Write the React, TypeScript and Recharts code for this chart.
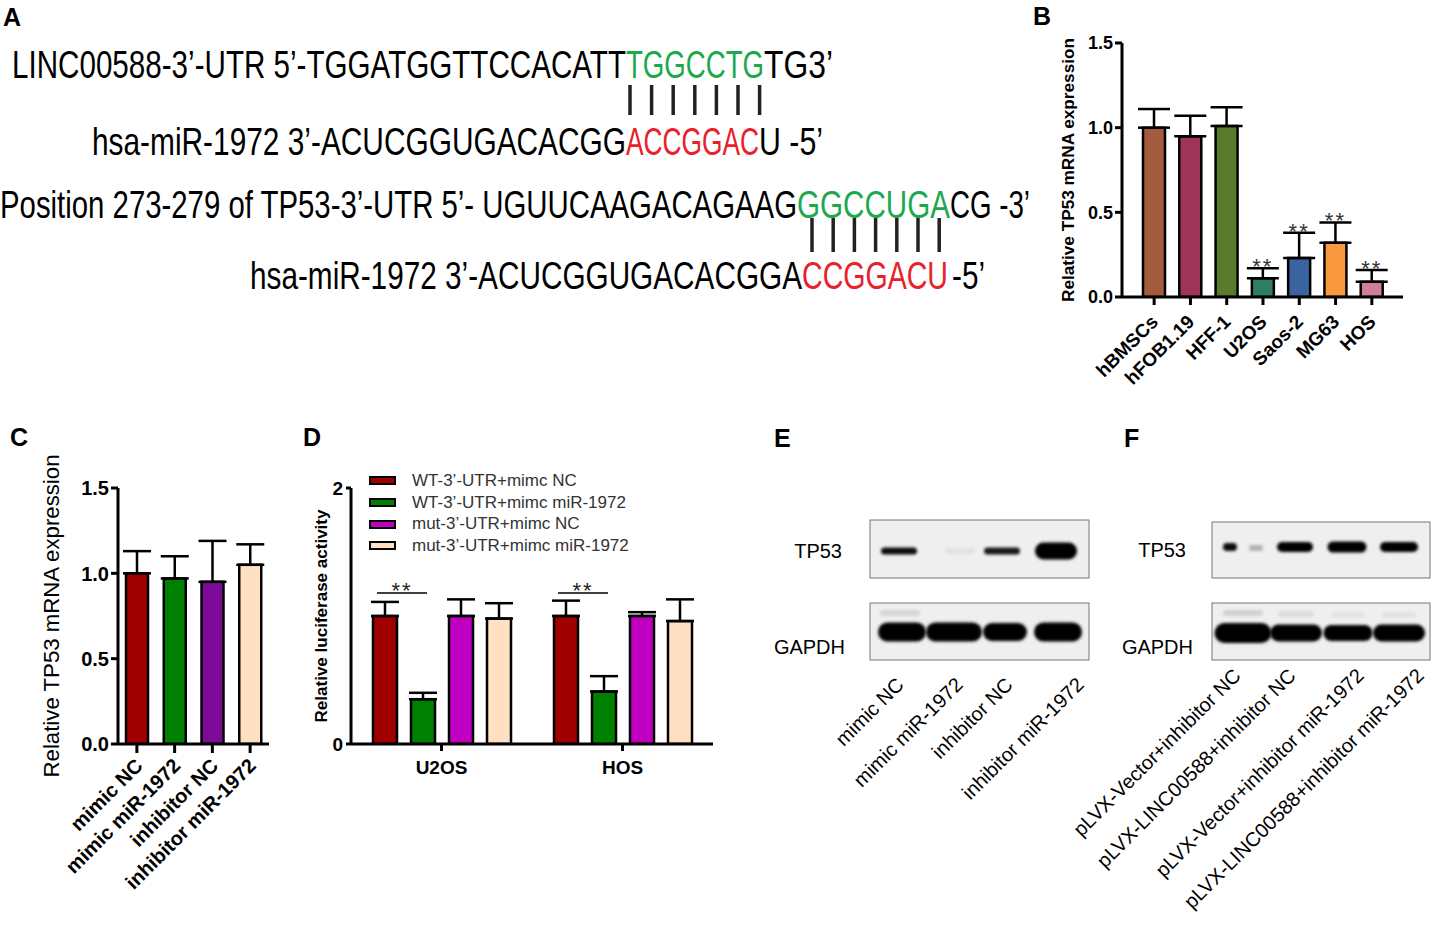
import React from "react";
import { BarChart, Bar, XAxis, YAxis, ErrorBar, Cell, LabelList, Legend } from "recharts";

const FONT = "'Liberation Sans', Arial, Helvetica, sans-serif";
const NARROW = "'Liberation Sans Narrow', 'Liberation Sans', Arial, sans-serif";
const GREEN = "#1ea84c";
const RED = "#e8212b";

// ---- panel B: TP53 in cell lines
const cellLines = ["hBMSCs", "hFOB1.19", "HFF-1", "U2OS", "Saos-2", "MG63", "HOS"];
const cellExpr = [1.0, 0.95, 1.01, 0.11, 0.23, 0.32, 0.09];
const cellErr = [0.11, 0.12, 0.11, 0.06, 0.15, 0.12, 0.07];
const cellSig = ["", "", "", "**", "**", "**", "**"];
const cellColors = ["#a45a3c", "#9e3559", "#5b7b2c", "#2e7f62", "#3a64a0", "#f99a40", "#d37d9d"];

// ---- panel C: mimic / inhibitor
const groupsC = ["mimic NC", "mimic miR-1972", "inhibitor NC", "inhibitor miR-1972"];
const exprC = [1.0, 0.97, 0.95, 1.05];
const errC = [0.13, 0.13, 0.24, 0.12];
const colorsC = ["#a00000", "#008000", "#7d0a99", "#ffe0c2"];

// ---- panel D: luciferase
const linesD = ["U2OS", "HOS"];
const wtNC = [1.0, 1.0];
const wtNCErr = [0.11, 0.12];
const wtMiR = [0.35, 0.41];
const wtMiRErr = [0.05, 0.12];
const mutNC = [1.0, 1.0];
const mutNCErr = [0.13, 0.03];
const mutMiR = [0.98, 0.96];
const mutMiRErr = [0.12, 0.17];
const sigD = ["**", "**"];
const sigLevelD = 1.18;
const seriesD = [
  { key: "wtNC", name: "WT-3’-UTR+mimc NC", color: "#a00000" },
  { key: "wtMiR", name: "WT-3’-UTR+mimc miR-1972", color: "#008000" },
  { key: "mutNC", name: "mut-3’-UTR+mimc NC", color: "#c000c0" },
  { key: "mutMiR", name: "mut-3’-UTR+mimc miR-1972", color: "#ffe0c2" },
];

// ---- blots (band intensity per lane)
const lanesE = ["mimic NC", "mimic miR-1972", "inhibitor NC", "inhibitor miR-1972"];
const lanesF = [
  "pLVX-Vector+inhibitor NC",
  "pLVX-LINC00588+inhibitor NC",
  "pLVX-Vector+inhibitor miR-1972",
  "pLVX-LINC00588+inhibitor miR-1972",
];
const tp53E = [0.95, 0.05, 0.9, 1.0];
const gapdhE = [1, 1, 1, 1];
const tp53F = [0.95, 1, 1, 1];
const gapdhF = [1, 1, 1, 1];

const dataB = cellLines.map((c, i) => ({ name: c, value: cellExpr[i], err: [0, cellErr[i]], sig: cellSig[i] }));
const dataC = groupsC.map((g, i) => ({ name: g, value: exprC[i], err: [0, errC[i]] }));
const dataD = linesD.map((l, i) => ({
  name: l,
  wtNC: wtNC[i], wtNCErr: [0, wtNCErr[i]],
  wtMiR: wtMiR[i], wtMiRErr: [0, wtMiRErr[i]],
  mutNC: mutNC[i], mutNCErr: [0, mutNCErr[i]],
  mutMiR: mutMiR[i], mutMiRErr: [0, mutMiRErr[i]],
  sig: sigD[i],
}));

const axisStyle = { stroke: "#000", strokeWidth: 3 };

const RotTick = (p: any) => {
  const { x, y, payload, size, dx, dy } = p;
  return (
    <text transform={`translate(${x + dx},${y + dy}) rotate(-45)`} textAnchor="end"
      fontSize={size} fontWeight={700} fontFamily={FONT} fill="#000">
      {payload.value}
    </text>
  );
};

const YTick = (p: any) => {
  const { x, y, payload, size, digits } = p;
  const v = Number(payload.value);
  return (
    <text x={x} y={y} dy="0.36em" textAnchor="end" fontSize={size} fontWeight={700} fontFamily={FONT} fill="#000">
      {digits ? v.toFixed(digits) : String(v)}
    </text>
  );
};

const StarB = (props: any) => {
  const vb = props.viewBox || props;
  const row = dataB[props.index];
  if (!row || !row.sig) return null;
  const per = vb.height / row.value;
  const top = vb.y - row.err[1] * per;
  return (
    <text x={vb.x + vb.width / 2} y={top + 6} textAnchor="middle" fontSize={22}
      fontFamily={FONT} fill="#333" letterSpacing={2}>{row.sig}</text>
  );
};

const BracketD = (props: any) => {
  const vb = props.viewBox || props;
  const row = dataD[props.index];
  if (!row || !row.sig) return null;
  const per = vb.height / row.wtNC;
  const yl = vb.y + vb.height - sigLevelD * per;
  const x1 = vb.x + 4;
  const x2 = vb.x + vb.width * 2 + 14 - 8;
  return (
    <g>
      <line x1={x1} x2={x2} y1={yl} y2={yl} stroke="#000" strokeWidth={1.5} />
      <text x={(x1 + x2) / 2} y={yl + 5} textAnchor="middle" fontSize={22} fontFamily={FONT} fill="#222" letterSpacing={2}>
        {row.sig}
      </text>
    </g>
  );
};

function PanelB() {
  return (
    <BarChart width={392} height={400} data={dataB} margin={{ top: 43, right: 29, left: 0, bottom: 0 }}>
      <XAxis dataKey="name" interval={0} height={103} padding={{ left: 14, right: 13 }}
        axisLine={axisStyle} tickLine={axisStyle} tickSize={8} tickMargin={0}
        tick={(p: any) => <RotTick {...p} size={19} dx={5} dy={18} />} />
      <YAxis width={82} domain={[0, 1.5]} ticks={[0, 0.5, 1, 1.5]} allowDataOverflow
        axisLine={axisStyle} tickLine={axisStyle} tickSize={7} tickMargin={2}
        tick={(p: any) => <YTick {...p} size={18} digits={1} />} />
      <Bar dataKey="value" barSize={22} stroke="#000" strokeWidth={2.5} isAnimationActive={false}>
        {dataB.map((d, i) => <Cell key={d.name} fill={cellColors[i]} />)}
        <ErrorBar dataKey="err" width={16} stroke="#000" strokeWidth={2.5} direction="y" isAnimationActive={false} />
        <LabelList dataKey="sig" content={StarB} />
      </Bar>
    </BarChart>
  );
}

function PanelC() {
  return (
    <BarChart width={300} height={480} data={dataC} margin={{ top: 68, right: 31, left: 0, bottom: 0 }}>
      <XAxis dataKey="name" interval={0} height={156}
        axisLine={axisStyle} tickLine={axisStyle} tickSize={9} tickMargin={0}
        tick={(p: any) => <RotTick {...p} size={20} dx={7} dy={14} />} />
      <YAxis width={118} domain={[0, 1.5]} ticks={[0, 0.5, 1, 1.5]} allowDataOverflow
        axisLine={axisStyle} tickLine={axisStyle} tickSize={7} tickMargin={2}
        tick={(p: any) => <YTick {...p} size={20} digits={1} />} />
      <Bar dataKey="value" barSize={22} stroke="#000" strokeWidth={2.5} isAnimationActive={false}>
        {dataC.map((d, i) => <Cell key={d.name} fill={colorsC[i]} />)}
        <ErrorBar dataKey="err" width={14} stroke="#000" strokeWidth={2.5} direction="y" isAnimationActive={false} />
      </Bar>
    </BarChart>
  );
}

const LegendD = () => (
  <div style={{ fontFamily: FONT }}>
    {seriesD.map((s) => (
      <div key={s.key} style={{ display: "flex", alignItems: "center", height: 21.7 }}>
        <span style={{ display: "inline-block", width: 23, height: 5, border: "2px solid #000", background: s.color }} />
        <span style={{ marginLeft: 16, fontSize: 17, color: "#333", whiteSpace: "nowrap" }}>{s.name}</span>
      </div>
    ))}
  </div>
);

function PanelD() {
  return (
    <BarChart width={420} height={380} data={dataD} margin={{ top: 68, right: 7, left: 0, bottom: 0 }}
      barGap={14} barCategoryGap={21}>
      <XAxis dataKey="name" height={56} axisLine={axisStyle} tickLine={axisStyle} tickSize={7} tickMargin={0}
        tick={(p: any) => (
          <text x={p.x} y={p.y + 23} textAnchor="middle" fontSize={19} fontWeight={700} fontFamily={FONT} fill="#000">
            {p.payload.value}
          </text>
        )} />
      <YAxis width={51} domain={[0, 2]} ticks={[0, 2]} allowDataOverflow axisLine={axisStyle} tickLine={axisStyle}
        tickSize={5} tickMargin={3}
        tick={(p: any) => <YTick {...p} size={19} digits={0} />} />
      <Legend layout="vertical" align="center" verticalAlign="middle" content={LegendD}
        wrapperStyle={{ left: 69, top: 50, width: 330 }} />
      {seriesD.map((s) => (
        <Bar key={s.key} dataKey={s.key} name={s.name} fill={s.color} stroke="#000" strokeWidth={2.5}
          barSize={24} isAnimationActive={false}>
          <ErrorBar dataKey={s.key + "Err"} width={14} stroke="#000" strokeWidth={2.5} direction="y" isAnimationActive={false} />
          {s.key === "wtNC" ? <LabelList dataKey="sig" content={BracketD} /> : null}
        </Bar>
      ))}
    </BarChart>
  );
}

// ---- panel A sequences: [text, x start, x end, color]
const seqRows: { y: number; parts: [string, number, number, string][] }[] = [
  { y: 78, parts: [["LINC00588-3’-UTR 5’-TGGATGGTTCCACATT", 12, 626, "#000"], ["TGGCCTG", 626, 764, GREEN], ["TG3’", 764, 833, "#000"]] },
  { y: 155, parts: [["hsa-miR-1972 3’-ACUCGGUGACACGG", 92, 626, "#000"], ["ACCGGAC", 626, 759, RED], ["U -5’", 759, 823, "#000"]] },
  { y: 218, parts: [["Position 273-279 of TP53-3’-UTR 5’- UGUUCAAGACAGAAG", 0, 797, "#000"], ["GGCCUGA", 797, 950, GREEN], ["CG -3’", 950, 1030, "#000"]] },
  { y: 289, parts: [["hsa-miR-1972 3’-ACUCGGUGACACGGA", 250, 802, "#000"], ["CCGGACU", 802, 948, RED], ["-5’", 952, 985, "#000"]] },
];
const pairs = [
  { x0: 630, step: 21.6, y1: 85, y2: 115 },
  { x0: 812, step: 21.2, y1: 218, y2: 252 },
];

function Blot({ x, y, w, h, cy, vals, centers, widths, heights, extra }: any) {
  return (
    <g>
      <rect x={x} y={y} width={w} height={h} fill="#efefef" stroke="#777" strokeWidth={1} />
      {vals.map((v: number, i: number) => (
        <rect key={i} x={x + centers[i] - widths[i] / 2} y={cy - heights[i] / 2} width={widths[i]} height={heights[i]}
          rx={heights[i] / 2} fill="#000" opacity={v} filter="url(#blur)" />
      ))}
      {(extra || []).map((e: any, i: number) => (
        <rect key={"e" + i} x={x + e.c - e.w / 2} y={e.y - e.h / 2} width={e.w} height={e.h} rx={e.h / 2}
          fill="#000" opacity={e.a} filter="url(#blur)" />
      ))}
    </g>
  );
}

function Overlay() {
  const lbl = { fontFamily: FONT, fontWeight: 700, fontSize: 25, fill: "#000" } as const;
  return (
    <svg width={1432} height={925} style={{ position: "absolute", left: 0, top: 0 }}>
      <defs>
        <filter id="blur" x="-50%" y="-100%" width="200%" height="300%">
          <feGaussianBlur stdDeviation="1.6" />
        </filter>
      </defs>
      <text x={3} y={26} {...lbl}>A</text>
      <text x={1033} y={25} {...lbl}>B</text>
      <text x={10} y={446} {...lbl}>C</text>
      <text x={303} y={446} {...lbl}>D</text>
      <text x={774} y={447} {...lbl}>E</text>
      <text x={1124} y={447} {...lbl}>F</text>

      {seqRows.map((r, ri) => (
        <text key={ri} y={r.y} fontFamily={NARROW} fontSize={39}>
          {r.parts.map(([t, x0, x1, c], pi) => (
            <tspan key={pi} x={x0} fill={c} textLength={x1 - x0} lengthAdjust="spacingAndGlyphs">{t}</tspan>
          ))}
        </text>
      ))}
      {pairs.map((p, pi) =>
        Array.from({ length: 7 }).map((_, i) => (
          <line key={pi + "-" + i} x1={p.x0 + i * p.step} x2={p.x0 + i * p.step} y1={p.y1} y2={p.y2}
            stroke="#222" strokeWidth={3.5} />
        ))
      )}

      <text transform="translate(1074,170) rotate(-90)" textAnchor="middle" fontFamily={FONT} fontWeight={700}
        fontSize={17} textLength={264} lengthAdjust="spacingAndGlyphs">Relative TP53 mRNA expression</text>
      <text transform="translate(59,616) rotate(-90)" textAnchor="middle" fontFamily={FONT}
        fontSize={22} textLength={323} lengthAdjust="spacingAndGlyphs">Relative TP53 mRNA expression</text>
      <text transform="translate(327,616) rotate(-90)" textAnchor="middle" fontFamily={FONT} fontWeight={700}
        fontSize={17} textLength={213} lengthAdjust="spacingAndGlyphs">Relative luciferase activity</text>

      {/* E */}
      <Blot x={870} y={520} w={219} h={58} cy={551} vals={tp53E} centers={[29, 90, 132, 186]}
        widths={[36, 30, 36, 42]} heights={[7, 6, 7, 17]} />
      <Blot x={870} y={603} w={219} h={57} cy={632} vals={gapdhE} centers={[32, 84, 135, 188]}
        widths={[48, 56, 44, 48]} heights={[19, 19, 18, 19]}
        extra={[{ c: 30, y: 613, w: 40, h: 6, a: 0.1 }]} />
      <text x={842} y={558} textAnchor="end" fontFamily={FONT} fontSize={20}>TP53</text>
      <text x={845} y={654} textAnchor="end" fontFamily={FONT} fontSize={20}>GAPDH</text>
      {lanesE.map((t, i) => (
        <text key={t} transform={`translate(${[905, 964, 1014, 1085][i]},686) rotate(-45)`} textAnchor="end"
          fontFamily={FONT} fontSize={20}>{t}</text>
      ))}

      {/* F */}
      <Blot x={1212} y={522} w={218} h={56} cy={547} vals={tp53F} centers={[18, 83, 135, 187]}
        widths={[14, 36, 39, 38]} heights={[8, 10, 11, 10]}
        extra={[{ c: 44, y: 548, w: 14, h: 6, a: 0.25 }]} />
      <Blot x={1212} y={603} w={218} h={57} cy={633} vals={gapdhF} centers={[31, 84, 136, 187]}
        widths={[57, 52, 49, 52]} heights={[20, 17, 16, 17]}
        extra={[{ c: 31, y: 613, w: 40, h: 6, a: 0.12 }, { c: 84, y: 614, w: 36, h: 6, a: 0.08 }, { c: 136, y: 615, w: 34, h: 5, a: 0.05 }, { c: 187, y: 615, w: 34, h: 5, a: 0.06 }]} />
      <text x={1186} y={557} textAnchor="end" fontFamily={FONT} fontSize={20}>TP53</text>
      <text x={1193} y={654} textAnchor="end" fontFamily={FONT} fontSize={20}>GAPDH</text>
      {lanesF.map((t, i) => (
        <text key={t} transform={`translate(${[1242, 1297, 1365, 1425][i]},677) rotate(-45)`} textAnchor="end"
          fontFamily={FONT} fontSize={20}>{t}</text>
      ))}
    </svg>
  );
}

export default function App() {
  return (
    <div style={{ position: "absolute", left: 0, top: 0, width: 1432, height: 925, background: "#fff", overflow: "hidden", fontFamily: FONT }}>
      <Overlay />
      <div style={{ position: "absolute", left: 1040, top: 0 }}><PanelB /></div>
      <div style={{ position: "absolute", left: 0, top: 420 }}><PanelC /></div>
      <div style={{ position: "absolute", left: 300, top: 420 }}><PanelD /></div>
    </div>
  );
}
